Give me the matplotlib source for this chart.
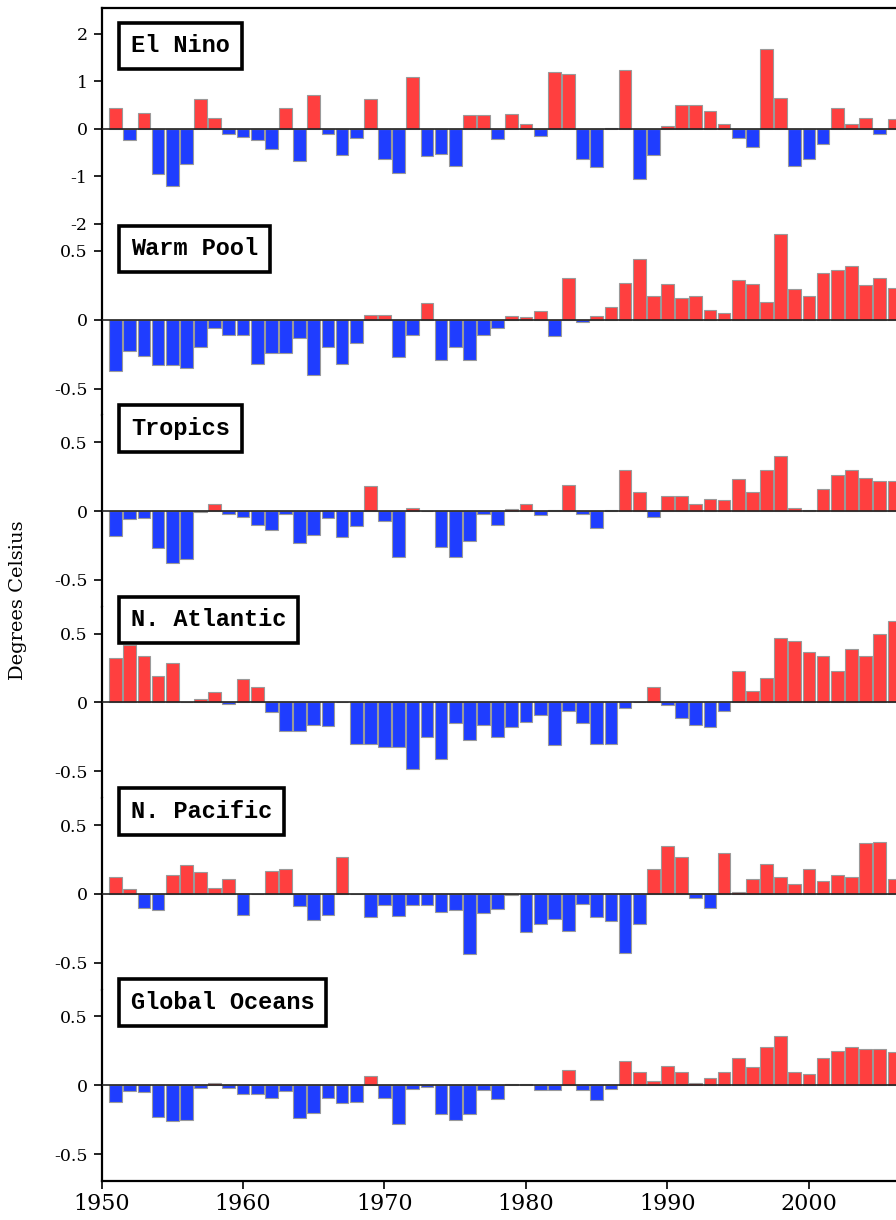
import numpy as np
import matplotlib
matplotlib.use('Agg')
import matplotlib.pyplot as plt
import matplotlib.transforms as mtransforms

years = np.arange(1951, 2007)

el_nino = [0.45, -0.24, 0.34, -0.95, -1.19, -0.73, 0.64, 0.23, -0.10, -0.17,
           -0.24, -0.42, 0.44, -0.68, 0.71, -0.11, -0.55, -0.20, 0.64, -0.64,
           -0.92, 1.09, -0.56, -0.53, -0.77, 0.30, 0.30, -0.22, 0.32, 0.10,
           -0.14, 1.20, 1.15, -0.63, -0.80, 0.03, 1.24, -1.05, -0.55, 0.06,
           0.51, 0.51, 0.37, 0.10, -0.19, -0.37, 1.69, 0.66, -0.78, -0.63,
           -0.31, 0.45, 0.11, 0.23, -0.10, 0.20]
warm_pool = [-0.37, -0.23, -0.26, -0.33, -0.33, -0.35, -0.20, -0.06, -0.11, -0.11,
             -0.32, -0.24, -0.24, -0.13, -0.40, -0.20, -0.32, -0.17, 0.034, 0.034,
             -0.27, -0.11, 0.12, -0.29, -0.20, -0.29, -0.11, -0.06, 0.03, 0.02,
             0.06, -0.12, 0.30, -0.015, 0.03, 0.09, 0.27, 0.44, 0.17, 0.26,
             0.16, 0.17, 0.07, 0.05, 0.29, 0.26, 0.13, 0.62, 0.22, 0.17,
             0.34, 0.36, 0.39, 0.25, 0.30, 0.23]
tropics = [-0.18, -0.06, -0.05, -0.27, -0.38, -0.35, -0.01, 0.05, -0.02, -0.04,
           -0.10, -0.14, -0.02, -0.23, -0.17, -0.05, -0.19, -0.11, 0.18, -0.07,
           -0.33, 0.02, 0.0, -0.26, -0.33, -0.22, -0.02, -0.10, 0.015, 0.05,
           -0.03, 0.01, 0.19, -0.02, -0.12, 0.01, 0.30, 0.14, -0.04, 0.11,
           0.11, 0.05, 0.09, 0.08, 0.23, 0.14, 0.30, 0.40, 0.025, 0.01,
           0.16, 0.26, 0.30, 0.24, 0.22, 0.22]
n_atlantic = [0.32, 0.42, 0.335, 0.19, 0.29, 0.0, 0.025, 0.075, -0.012, 0.17,
              0.115, -0.07, -0.21, -0.21, -0.16, -0.17, 0.0, -0.30, -0.30, -0.32,
              -0.32, -0.48, -0.25, -0.41, -0.15, -0.27, -0.16, -0.25, -0.18, -0.14,
              -0.09, -0.31, -0.06, -0.15, -0.30, -0.30, -0.04, 0.0, 0.11, -0.02,
              -0.11, -0.16, -0.18, -0.06, 0.23, 0.08, 0.18, 0.47, 0.45, 0.37,
              0.34, 0.23, 0.39, 0.34, 0.50, 0.59]
n_pacific = [0.125, 0.034, -0.10, -0.12, 0.14, 0.21, 0.16, 0.044, 0.105, -0.15,
             0.0, 0.165, 0.18, -0.09, -0.19, -0.15, 0.27, 0.0, -0.17, -0.08,
             -0.16, -0.08, -0.08, -0.13, -0.12, -0.44, -0.14, -0.11, -0.01, -0.28,
             -0.22, -0.18, -0.27, -0.07, -0.17, -0.20, -0.43, -0.22, 0.18, 0.35,
             0.27, -0.03, -0.10, 0.30, 0.012, 0.105, 0.22, 0.125, 0.07, 0.18,
             0.095, 0.14, 0.125, 0.37, 0.38, 0.105]
global_oceans = [-0.12, -0.04, -0.05, -0.23, -0.26, -0.25, -0.02, 0.02, -0.02, -0.06,
                 -0.06, -0.09, -0.04, -0.24, -0.20, -0.09, -0.13, -0.12, 0.07, -0.09,
                 -0.28, -0.03, -0.01, -0.21, -0.25, -0.21, -0.035, -0.10, 0.007, 0.007,
                 -0.035, -0.035, 0.11, -0.035, -0.11, -0.03, 0.18, 0.10, 0.03, 0.14,
                 0.10, 0.02, 0.05, 0.10, 0.20, 0.13, 0.28, 0.36, 0.10, 0.085,
                 0.20, 0.25, 0.28, 0.26, 0.26, 0.245]

names = ['El Nino', 'Warm Pool', 'Tropics', 'N. Atlantic', 'N. Pacific', 'Global Oceans']
series = [el_nino, warm_pool, tropics, n_atlantic, n_pacific, global_oceans]
year_ticks = [1950, 1960, 1970, 1980, 1990, 2000]

RED = '#FF3F3F'
BLUE = '#1F3DFF'

plt.rcParams.update({
    'font.family': 'DejaVu Serif',
    'axes.unicode_minus': False,
})

W, H = 896, 1220
fig = plt.figure(figsize=(W / 100, H / 100), dpi=100)

# panel layout in pixels; the right side of the chart runs off the picture
left_px = 101.5
x_right = 2006.15
bottom_px = 1181
top_px = 8
lower_h = 191.4
tops = [top_px] + [bottom_px - (5 - i) * lower_h for i in range(5)]
bottoms = [bottom_px - 5 * lower_h] + [bottom_px - (4 - i) * lower_h for i in range(5)]

ylims = [(-2.0, 2.547)] + [(-0.695, 0.695)] * 5
box_y = [1.75, 0.514, 0.60, 0.60, 0.60, 0.60]

for i, (name, vals) in enumerate(zip(names, series)):
    t, b = tops[i], bottoms[i]
    ax = fig.add_axes([left_px / W, 1 - b / H, (W - left_px) / W, (b - t) / H])
    vals = np.array(vals)
    cols = [RED if v >= 0 else BLUE for v in vals]
    ax.bar(years, vals, width=0.9, color=cols, edgecolor='#9a9a9a',
           linewidth=0.8, zorder=2)
    ax.axhline(0, color='#222222', linewidth=1.2, zorder=3)

    for s in ['right', 'top', 'bottom']:
        ax.spines[s].set_visible(False)
    ax.spines['left'].set_linewidth(1.6)
    if i == 0:
        ax.spines['top'].set_visible(True)
        ax.spines['top'].set_linewidth(1.6)
        ax.set_yticks([-2, -1, 0, 1, 2])
        ax.set_yticklabels(['-2', '-1', '0', '1', '2'])
    else:
        ax.set_yticks([-0.5, 0, 0.5])
        ax.set_yticklabels(['-0.5', '0', '0.5'])
    ax.tick_params(axis='y', direction='out', length=6, width=1.2,
                   labelsize=12.5, pad=4)

    if i == 5:
        ax.spines['bottom'].set_visible(True)
        ax.spines['bottom'].set_linewidth(1.6)
        ax.set_xticks(year_ticks)
        ax.tick_params(axis='x', direction='out', length=6, width=1.2,
                       labelsize=16, pad=3)
    else:
        ax.set_xticks([])

    ax.set_xlim(1950, x_right)
    ax.set_ylim(*ylims[i])

    trans = mtransforms.blended_transform_factory(ax.transAxes, ax.transData)
    ax.text(0.037, box_y[i], name, transform=trans, ha='left', va='center',
            family='Liberation Mono', weight='bold', fontsize=17, zorder=10,
            bbox=dict(boxstyle='square,pad=0.5', facecolor='white',
                      edgecolor='black', linewidth=2.6))

fig.text(0.02, 0.508, 'Degrees Celsius', rotation=90, ha='center', va='center',
         fontsize=14)

fig.savefig('out.png', dpi=100)
